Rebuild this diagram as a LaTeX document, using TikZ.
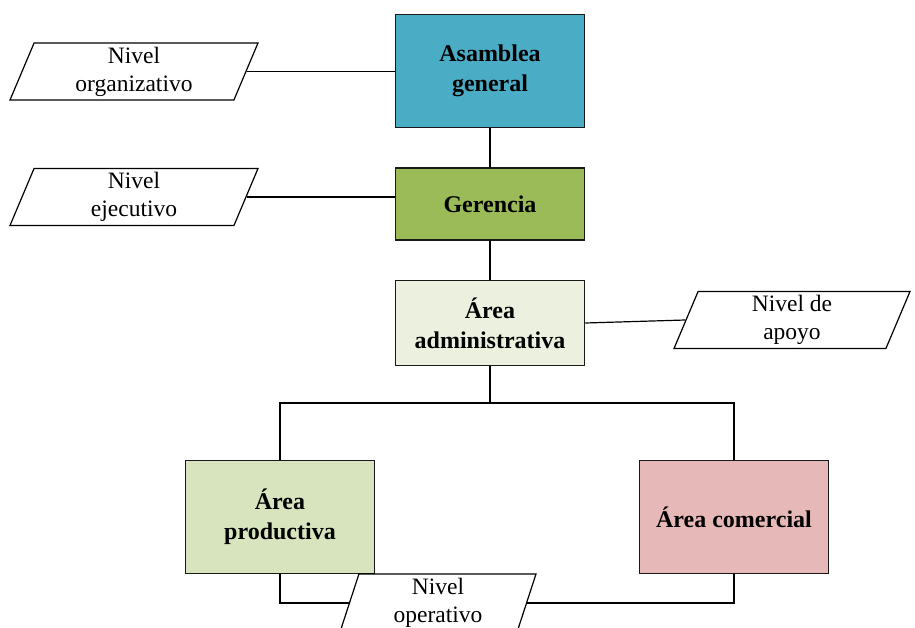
\documentclass[tikz,border=0pt]{standalone}
\usepackage{fontspec}
\setmainfont{Liberation Serif}
\usetikzlibrary{shapes.geometric}
\definecolor{asamblea}{HTML}{4BACC6}
\definecolor{gerencia}{HTML}{9BBB59}
\definecolor{admin}{HTML}{EBF1DE}
\definecolor{productiva}{HTML}{D7E4BD}
\definecolor{comercial}{HTML}{E6B9B8}

\begin{document}
\begin{tikzpicture}[x=1pt,y=-1pt,
  unit/.style={draw=black!90,line width=1.5pt,align=center,inner sep=2pt,
    font=\fontsize{24}{30}\selectfont\bfseries,minimum width=189pt},
  nivel/.style={draw,line width=1.2pt,trapezium,trapezium left angle=64,
    trapezium right angle=116,trapezium stretches body,minimum height=57pt,
    minimum width=248pt,align=center,inner sep=0pt,
    font=\fontsize{23.5}{28}\selectfont},
  enlace/.style={line width=1.2pt}]
\useasboundingbox (0,0) rectangle (915,628);
% unidades
\node[unit,fill=asamblea,minimum height=113pt] (asam) at (490,71) {Asamblea\\general};
\node[unit,fill=gerencia,minimum height=72pt] (ger) at (490,204) {Gerencia};
\node[unit,fill=admin,minimum height=85pt] (adm) at (490,323) {Área\\administrativa};
\node[unit,fill=productiva,minimum height=113pt] (prod) at (280,517) {Área\\productiva};
\node[unit,fill=comercial,minimum height=113pt] (com) at (734,517) {Área comercial};
% niveles
\node[nivel] (org) at (134,71.5) {Nivel\\organizativo};
\node[nivel] (ejec) at (134,197) {Nivel\\ejecutivo};
\node[nivel,minimum width=236pt] (apoyo) at (792,320) {Nivel de\\apoyo};
\node[nivel,minimum width=196pt,minimum height=58pt,trapezium left angle=69,
  trapezium right angle=111] (oper) at (438,603) {Nivel\\operativo};
% enlaces
\coordinate (split) at (490,403);
\draw[enlace] (asam) -- (ger) (ger) -- (adm) (adm) -- (split);
\draw[enlace] (split) -| (prod.north) (split) -| (com.north);
\draw[enlace] (org.east) -- (asam.west |- org.east);
\draw[enlace] (ejec.east) -- (ger.west |- ejec.east);
\draw[enlace] (adm.east) -- (apoyo.west);
\draw[enlace] (prod.south) |- (oper.west) (com.south) |- (oper.east);
\end{tikzpicture}
\end{document}
